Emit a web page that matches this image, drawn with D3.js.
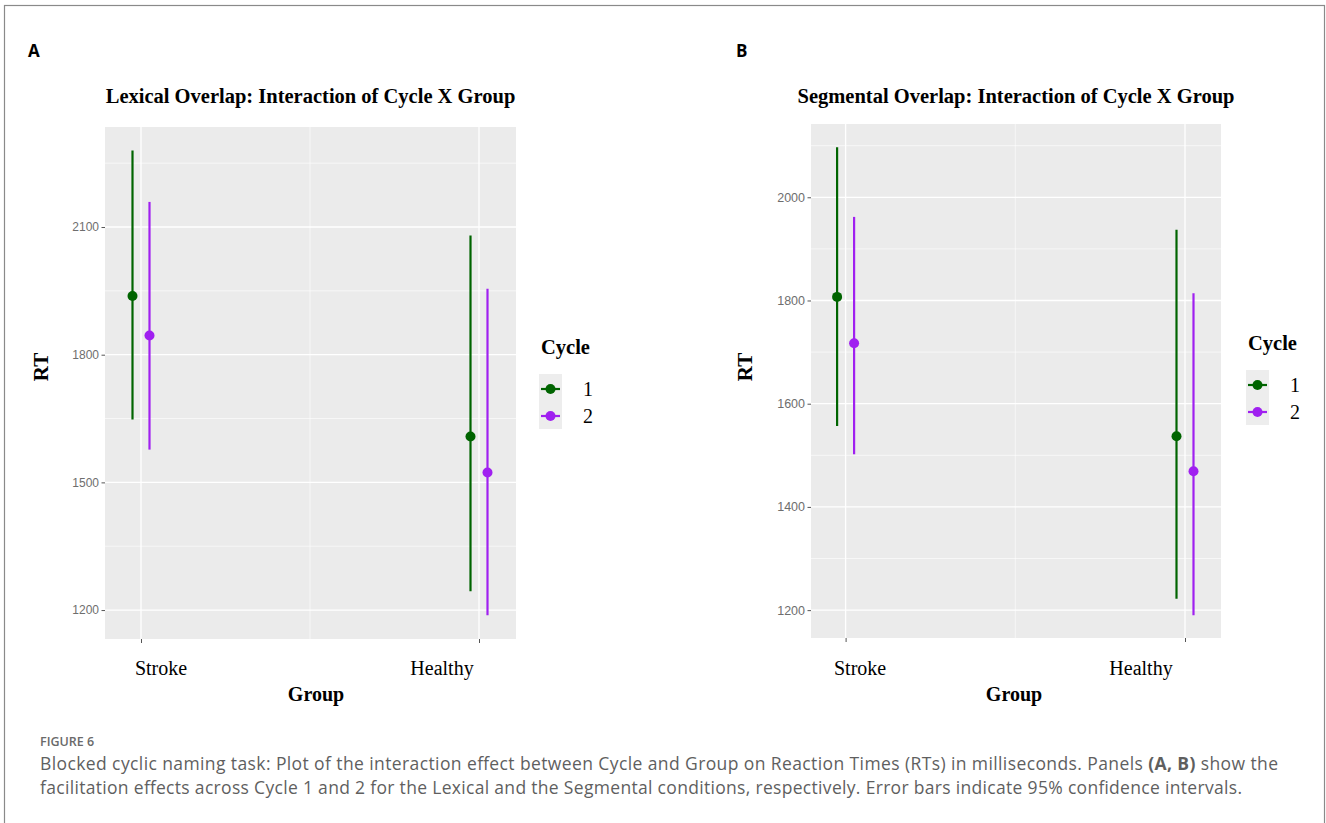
<!DOCTYPE html>
<html>
<head>
<meta charset="utf-8">
<script src="https://cdn.jsdelivr.net/npm/d3@7"></script>
<style>
  body { margin: 0; background: #fff; }
  svg { display: block; }
</style>
</head>
<body>
<svg id="fig" width="1326" height="823"></svg>
<script>
// ---- data ----
var groups = ["Stroke", "Healthy"];
var cycles = ["1", "2"];
var cycleColors = ["#006400", "#A020F0"];

// rows = cycle 1, cycle 2; columns = Stroke, Healthy
var lexicalMean = [[1938, 1608], [1845, 1523]];
var lexicalLow  = [[1648, 1244], [1577, 1188]];
var lexicalHigh = [[2280, 2080], [2159, 1955]];
var lexicalTicks = [1200, 1500, 1800, 2100];

var segmentalMean = [[1807, 1537], [1717, 1469]];
var segmentalLow  = [[1557, 1222], [1502, 1190]];
var segmentalHigh = [[2097, 1937], [1962, 1814]];
var segmentalTicks = [1200, 1400, 1600, 1800, 2000];

var captionHead = "FIGURE 6";
var captionLines = [
  ["Blocked cyclic naming task: Plot of the interaction effect between Cycle and Group on Reaction Times (RTs) in milliseconds. Panels ", "(A, B)", " show the"],
  ["facilitation effects across Cycle 1 and 2 for the Lexical and the Segmental conditions, respectively. Error bars indicate 95% confidence intervals."]
];
var captionWidths = [1238, 1202];

var svg = d3.select("#fig");
var serif = "'Liberation Serif', 'Times New Roman', serif";
var sans = "'Liberation Sans', Arial, sans-serif";

// outer frame
svg.append("rect")
   .attr("x", 4.5).attr("y", 5.5)
   .attr("width", 1320).attr("height", 860)
   .attr("fill", "none").attr("stroke", "#8a8a8a").attr("stroke-width", 1.2);

function drawPanel(p){
   var g = svg.append("g");

   var y = d3.scaleLinear().domain(p.yDomain).range([p.bottom, p.top]);
   var x = d3.scalePoint().domain(groups).range([p.left + p.padL, p.right - p.padR]);

   // panel letter and title
   g.append("text").attr("x", p.letterX).attr("y", 57)
      .attr("font-family", "'Open Sans', sans-serif").attr("font-weight", 700)
      .attr("font-size", 17).text(p.letter);
   g.append("text").attr("x", (p.left + p.right) / 2).attr("y", 103)
      .attr("text-anchor", "middle").attr("font-family", serif)
      .attr("font-weight", 700).attr("font-size", 20.5).text(p.title);

   // grey panel background
   g.append("rect").attr("x", p.left).attr("y", p.top)
      .attr("width", p.right - p.left).attr("height", p.bottom - p.top)
      .attr("fill", "#EBEBEB");

   // minor grid (midpoints between major ticks)
   var step = p.ticks[1] - p.ticks[0];
   var minor = [];
   for (var v = p.ticks[0] - step / 2; v < p.yDomain[1]; v += step){
      if (v > p.yDomain[0]) minor.push(v);
   }
   g.selectAll("line.minor-y").data(minor).enter().append("line")
      .attr("x1", p.left).attr("x2", p.right)
      .attr("y1", function(d){ return y(d); }).attr("y2", function(d){ return y(d); })
      .attr("stroke", "#fff").attr("stroke-width", 0.6);
   var midX = (x(groups[0]) + x(groups[1])) / 2;
   g.append("line").attr("x1", midX).attr("x2", midX)
      .attr("y1", p.top).attr("y2", p.bottom)
      .attr("stroke", "#fff").attr("stroke-width", 0.6);

   // major grid
   g.selectAll("line.major-y").data(p.ticks).enter().append("line")
      .attr("x1", p.left).attr("x2", p.right)
      .attr("y1", function(d){ return y(d); }).attr("y2", function(d){ return y(d); })
      .attr("stroke", "#fff").attr("stroke-width", 1.3);
   g.selectAll("line.major-x").data(groups).enter().append("line")
      .attr("x1", function(d){ return x(d); }).attr("x2", function(d){ return x(d); })
      .attr("y1", p.top).attr("y2", p.bottom)
      .attr("stroke", "#fff").attr("stroke-width", 1.3);

   // y axis
   var yAxis = g.append("g").attr("transform", "translate(" + p.left + ",0)")
      .call(d3.axisLeft(y).tickValues(p.ticks).tickFormat(d3.format("d"))
         .tickSize(3.5).tickPadding(2.5));
   yAxis.select(".domain").remove();
   yAxis.selectAll(".tick line").attr("stroke", "#555");
   yAxis.selectAll(".tick text").attr("fill", "#6e6e6e")
      .attr("font-family", sans).attr("font-size", p.tickFont);

   // x axis ticks (labels sit off-centre from the ticks, as in the figure)
   var xAxis = g.append("g").attr("transform", "translate(0," + p.bottom + ")")
      .call(d3.axisBottom(x).tickSize(4).tickFormat(""));
   xAxis.select(".domain").remove();
   xAxis.selectAll(".tick line").attr("stroke", "#555");
   g.selectAll("text.group-label").data(groups).enter().append("text")
      .attr("x", function(d, i){ return x(d) + p.labelShift[i]; })
      .attr("y", 675).attr("text-anchor", "middle")
      .attr("font-family", serif).attr("font-size", 20).text(function(d){ return d; });

   g.append("text").attr("x", p.groupX).attr("y", 701).attr("text-anchor", "middle")
      .attr("font-family", serif).attr("font-weight", 700).attr("font-size", 20).text("Group");
   g.append("text").attr("transform", "translate(" + (p.rtX) + ",367) rotate(-90)")
      .attr("text-anchor", "middle").attr("font-family", serif)
      .attr("font-weight", 700).attr("font-size", 21).text("RT");

   // error bars + points, dodged by cycle
   cycles.forEach(function(c, ci){
      var off = (ci === 0 ? -1 : 1) * p.dodge;
      var rows = groups.map(function(gr, gi){
         return { g: gr, mean: p.mean[ci][gi], lo: p.low[ci][gi], hi: p.high[ci][gi] };
      });
      g.selectAll("line.bar-" + ci).data(rows).enter().append("line")
         .attr("x1", function(d){ return x(d.g) + off; })
         .attr("x2", function(d){ return x(d.g) + off; })
         .attr("y1", function(d){ return y(d.lo); })
         .attr("y2", function(d){ return y(d.hi); })
         .attr("stroke", cycleColors[ci]).attr("stroke-width", 2.2);
      g.selectAll("circle.pt-" + ci).data(rows).enter().append("circle")
         .attr("cx", function(d){ return x(d.g) + off; })
         .attr("cy", function(d){ return y(d.mean); })
         .attr("r", 5).attr("fill", cycleColors[ci]);
   });

   // legend
   var lg = g.append("g");
   lg.append("text").attr("x", p.legX).attr("y", p.legY)
      .attr("font-family", serif).attr("font-weight", 700).attr("font-size", 20.5).text("Cycle");
   lg.append("rect").attr("x", p.legX - 2).attr("y", p.legY + 20)
      .attr("width", 23).attr("height", 55).attr("fill", "#EDEDED");
   cycles.forEach(function(c, ci){
      var ky = p.legY + 35 + ci * 27;
      lg.append("line").attr("x1", p.legX).attr("x2", p.legX + 19)
         .attr("y1", ky).attr("y2", ky)
         .attr("stroke", cycleColors[ci]).attr("stroke-width", 2.2);
      lg.append("circle").attr("cx", p.legX + 9.5).attr("cy", ky).attr("r", 5)
         .attr("fill", cycleColors[ci]);
      lg.append("text").attr("x", p.legX + 47).attr("y", ky + 7).attr("text-anchor", "middle")
         .attr("font-family", serif).attr("font-size", 20).text(c);
   });
}

drawPanel({
   letter: "A", letterX: 28, title: "Lexical Overlap: Interaction of Cycle X Group",
   left: 105, right: 516, top: 127, bottom: 639, padL: 36, padR: 37,
   yDomain: [1132, 2335], ticks: lexicalTicks, tickFont: 12,
   mean: lexicalMean, low: lexicalLow, high: lexicalHigh, dodge: 8.5,
   labelShift: [20, -37], groupX: 316, rtX: 48,
   legX: 541, legY: 354
});

drawPanel({
   letter: "B", letterX: 736, title: "Segmental Overlap: Interaction of Cycle X Group",
   left: 811, right: 1221, top: 124, bottom: 638, padL: 34.6, padR: 36,
   yDomain: [1146, 2142], ticks: segmentalTicks, tickFont: 12.5,
   mean: segmentalMean, low: segmentalLow, high: segmentalHigh, dodge: 8.5,
   labelShift: [14.5, -44], groupX: 1014, rtX: 752,
   legX: 1248, legY: 350
});

// caption
var cap = svg.append("g").attr("font-family", "'Open Sans', sans-serif").attr("fill", "#5f5f5f");
cap.append("text").attr("x", 40).attr("y", 746).attr("font-size", 12.5)
   .attr("font-weight", 600).attr("fill", "#6a6a6a").text(captionHead);
captionLines.forEach(function(parts, li){
   var t = cap.append("text").attr("x", 40).attr("y", 770 + li * 24).attr("font-size", 17.5)
      .attr("textLength", captionWidths[li]).attr("lengthAdjust", "spacing");
   parts.forEach(function(s){
      t.append("tspan").attr("font-weight", s === "(A, B)" ? 700 : 400).text(s);
   });
});
</script>
</body>
</html>
